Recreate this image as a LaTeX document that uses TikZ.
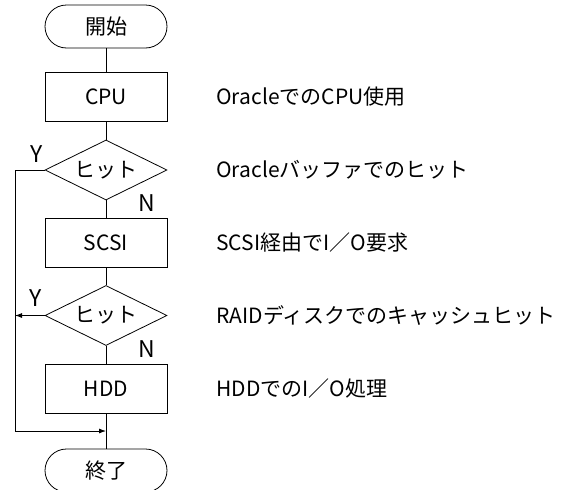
\documentclass[tikz,border=0pt]{standalone}
\usepackage{fontspec}
\setmainfont{Noto Sans CJK JP}
\usetikzlibrary{shapes.geometric,arrows.meta}

\begin{document}
\begin{tikzpicture}[x=1pt, y=-1pt, line width=0.8pt,
  every node/.style={font=\fontsize{21}{24}\selectfont},
  term/.style={draw, rectangle, rounded corners=21.5pt, minimum width=122pt, minimum height=43pt, inner sep=0pt},
  proc/.style={draw, rectangle, minimum width=122pt, minimum height=49pt, inner sep=0pt},
  test/.style={draw, diamond, aspect=2, minimum width=122pt, minimum height=60pt, inner sep=0pt},
  note/.style={anchor=west, inner sep=0pt},
  yn/.style={font=\fontsize{23}{26}\selectfont},
  tip/.style={-{Latex[length=7pt,width=5pt]}}]
\useasboundingbox (0,0) rectangle (565,490);
\clip (0,0) rectangle (565,490);
\node[term] (start) at (106,26.5) {開始};
\node[proc] (cpu) at (106,96.5) {CPU};
\node[test] (hit1) at (106,170) {ヒット};
\node[proc] (scsi) at (106,242.5) {SCSI};
\node[test] (hit2) at (106,315.5) {ヒット};
\node[proc] (hdd) at (106,388.5) {HDD};
\node[term] (stop) at (106,470.5) {終了};
% side notes
\node[note] (ncpu) at (216,96.5) {OracleでのCPU使用};
\node[note] (nhit1) at (216,170) {Oracleバッファでのヒット};
\node[note] (nscsi) at (216,242.5) {SCSI経由でI／O要求};
\node[note] (nhit2) at (216,315.5) {RAIDディスクでのキャッシュヒット};
\node[note] (nhdd) at (216,388.5) {HDDでのI／O処理};
% yes / no
\node[yn] (y1) at (37,154) {Y};
\node[yn] (y2) at (36,298) {Y};
\node[yn] (n1) at (147,203) {N};
\node[yn] (n2) at (147,349) {N};
\coordinate (c1) at (15,170);
\coordinate (c2) at (15,315.5);
\coordinate (c3) at (15,431);
\coordinate (join) at (106,431);
\draw (start) -- (cpu) -- (hit1) -- (scsi) -- (hit2) -- (hdd) -- (stop);
\draw (hit1.west) -- (c1) -- (c3);
\draw[tip] (c3) -- (join);
\draw[tip] (hit2.west) -- (c2);
\end{tikzpicture}
\end{document}
